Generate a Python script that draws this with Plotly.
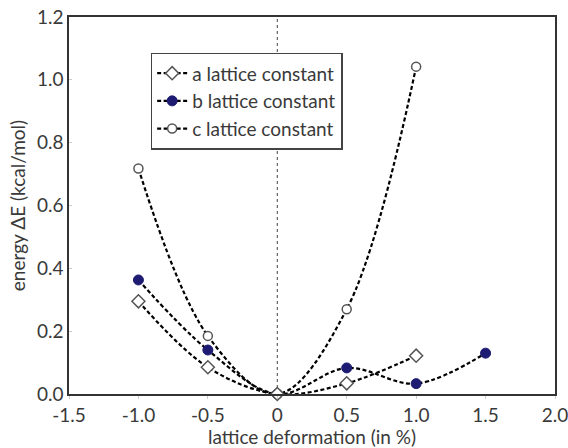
import plotly.graph_objects as go

# Lattice deformation (%) and relative energy (kcal/mol) for each lattice constant
a_x = [-1.0, -0.5, 0.0, 0.5, 1.0]
a_y = [0.295, 0.085, 0.0, 0.034, 0.122]

b_x = [-1.0, -0.5, 0.0, 0.5, 1.0, 1.5]
b_y = [0.363, 0.140, 0.0, 0.083, 0.033, 0.130]

c_x = [-1.0, -0.5, 0.0, 0.5, 1.0]
c_y = [0.718, 0.185, 0.0, 0.270, 1.042]

x_ticks = [-1.5, -1.0, -0.5, 0.0, 0.5, 1.0, 1.5, 2.0]
x_tick_text = ["-1.5", "-1.0", "-0.5", "0", "0.5", "1.0", "1.5", "2.0"]
y_ticks = [0.0, 0.2, 0.4, 0.6, 0.8, 1.0, 1.2]
y_tick_text = ["0.0", "0.2", "0.4", "0.6", "0.8", "1.0", "1.2"]

NAVY = "#1d1b72"
LINE = dict(color="black", width=2.2, dash="4px,2.5px", shape="spline")
FONT = "Lato, Open Sans, sans-serif"
TEXT = "#3a3a3a"

fig = go.Figure()

fig.add_trace(go.Scatter(
    x=c_x, y=c_y, mode="lines+markers", name="c lattice constant",
    line=LINE, legendrank=3, cliponaxis=False,
    marker=dict(symbol="circle", size=9, color="white",
                line=dict(color="#555555", width=1.5)),
))
fig.add_trace(go.Scatter(
    x=b_x, y=b_y, mode="lines+markers", name="b lattice constant",
    line=LINE, legendrank=2, cliponaxis=False,
    marker=dict(symbol="circle", size=10, color=NAVY,
                line=dict(color=NAVY, width=1)),
))
fig.add_trace(go.Scatter(
    x=a_x, y=a_y, mode="lines+markers", name="a lattice constant",
    line=LINE, legendrank=1, cliponaxis=False,
    marker=dict(symbol="diamond", size=10, color="white",
                line=dict(color="#555555", width=1.5)),
))

# dotted reference line at zero deformation
fig.add_shape(type="line", xref="x", yref="paper", x0=0, x1=0, y0=0, y1=1,
              line=dict(color="#444444", width=1, dash="dot"), layer="below")

fig.update_layout(
    width=568, height=448,
    margin=dict(l=69, r=13, t=17, b=54),
    paper_bgcolor="white", plot_bgcolor="white",
    font=dict(family=FONT, size=19, color=TEXT),
    showlegend=True,
    legend=dict(
        x=0.168, y=0.905, xanchor="left", yanchor="top",
        bgcolor="white", bordercolor="#444444", borderwidth=1.5,
        font=dict(size=19, color=TEXT),
        itemwidth=30, tracegroupgap=0,
    ),
    xaxis=dict(
        range=[-1.5, 2.0], tickvals=x_ticks, ticktext=x_tick_text,
        showgrid=False, zeroline=False, showline=True, mirror=True,
        linecolor="#333333", linewidth=1.5, automargin=False,
        ticklabeloverflow="allow",
        ticks="outside", ticklen=3, tickcolor="#cccccc",
        tickfont=dict(size=19),
        title=dict(text="lattice deformation (in %)", standoff=4,
                   font=dict(size=19)),
    ),
    yaxis=dict(
        range=[0, 1.2], tickvals=y_ticks, ticktext=y_tick_text,
        showgrid=False, zeroline=False, showline=True, mirror=True,
        linecolor="#333333", linewidth=1.5, automargin=False,
        ticklabeloverflow="allow",
        ticks="inside", ticklen=3, tickcolor="#cccccc",
        tickfont=dict(size=19),
        title=dict(text="energy ΔE (kcal/mol)", standoff=6,
                   font=dict(size=19)),
    ),
)

fig.write_html("out.html")
